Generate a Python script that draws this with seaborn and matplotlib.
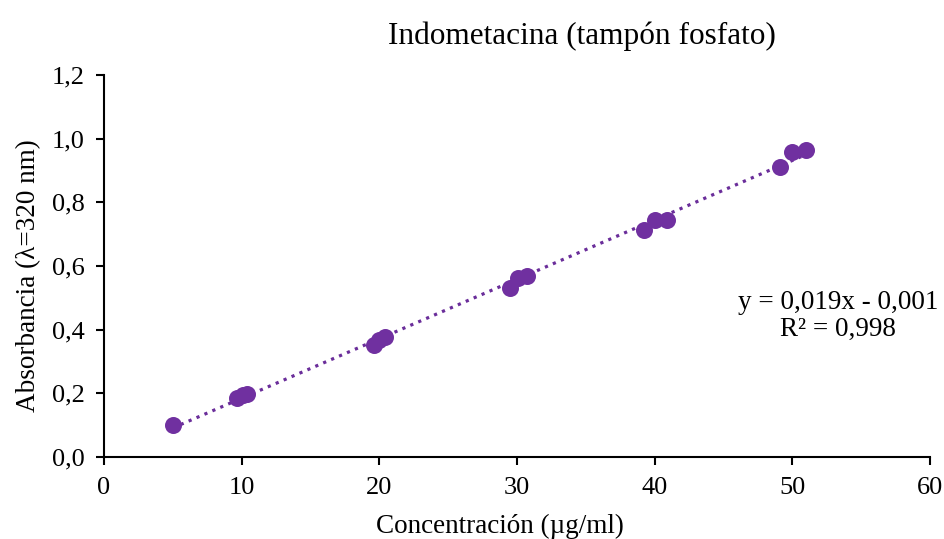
import numpy as np
import pandas as pd
import matplotlib
matplotlib.use("Agg")
import matplotlib.pyplot as plt
import seaborn as sns

# concentration (ug/ml) and absorbance
concentracion = [5.0, 9.7, 10.1, 10.4, 19.6, 20.0, 20.4, 29.5, 30.1, 30.7,
                 39.2, 40.0, 40.9, 49.1, 50.0, 51.0]
absorbancia = [0.100, 0.185, 0.195, 0.198, 0.352, 0.368, 0.377, 0.532, 0.562, 0.570,
               0.714, 0.745, 0.744, 0.912, 0.958, 0.963]

x_ticks = [0, 10, 20, 30, 40, 50, 60]
y_ticks = [0.0, 0.2, 0.4, 0.6, 0.8, 1.0, 1.2]
y_tick_labels = ["0,0", "0,2", "0,4", "0,6", "0,8", "1,0", "1,2"]

df = pd.DataFrame({"conc": concentracion, "abs": absorbancia})

sns.set_style("white")
plt.rcParams["font.family"] = ["Liberation Serif", "DejaVu Serif"]
plt.rcParams["text.color"] = "black"
plt.rcParams["axes.labelcolor"] = "black"

fig = plt.figure(figsize=(9.45, 5.39), dpi=100)
ax = fig.add_axes([0.110, 0.152, 0.874, 0.709])

sns.regplot(data=df, x="conc", y="abs", ci=None, ax=ax,
            scatter_kws=dict(s=150, color="#7030A0", alpha=1, linewidths=0, zorder=3),
            line_kws=dict(color="#6A2D9A", linewidth=2.3, dashes=(1, 1.7), zorder=2))

ax.set_xlim(0, 60)
ax.set_ylim(0, 1.2)
ax.set_xticks(x_ticks)
ax.set_xticklabels([str(t) for t in x_ticks])
ax.set_yticks(y_ticks)
ax.set_yticklabels(y_tick_labels)
ax.tick_params(axis="both", direction="out", length=6, width=1.5, colors="black",
               labelsize=19, pad=8, bottom=True, left=True)

for side in ["top", "right"]:
    ax.spines[side].set_visible(False)
for side in ["left", "bottom"]:
    ax.spines[side].set_color("black")
    ax.spines[side].set_linewidth(1.5)

ax.set_xlabel("Concentración (µg/ml)", fontsize=19.5)
ax.set_ylabel("Absorbancia (λ=320 nm)", fontsize=19.5)
ax.xaxis.set_label_coords(0.479, -0.148)
ax.yaxis.set_label_coords(-0.076, 0.476)

fig.text(0.616, 0.932, "Indometacina (tampón fosfato)", fontsize=22.5, ha="center", va="center")

# trend-line equation box as in the spreadsheet
ax.text(0.889, 0.37, "y = 0,019x - 0,001\nR² = 0,998", transform=ax.transAxes,
        fontsize=19.5, ha="center", va="center", linespacing=1.12)

fig.savefig("out.png", dpi=100)
